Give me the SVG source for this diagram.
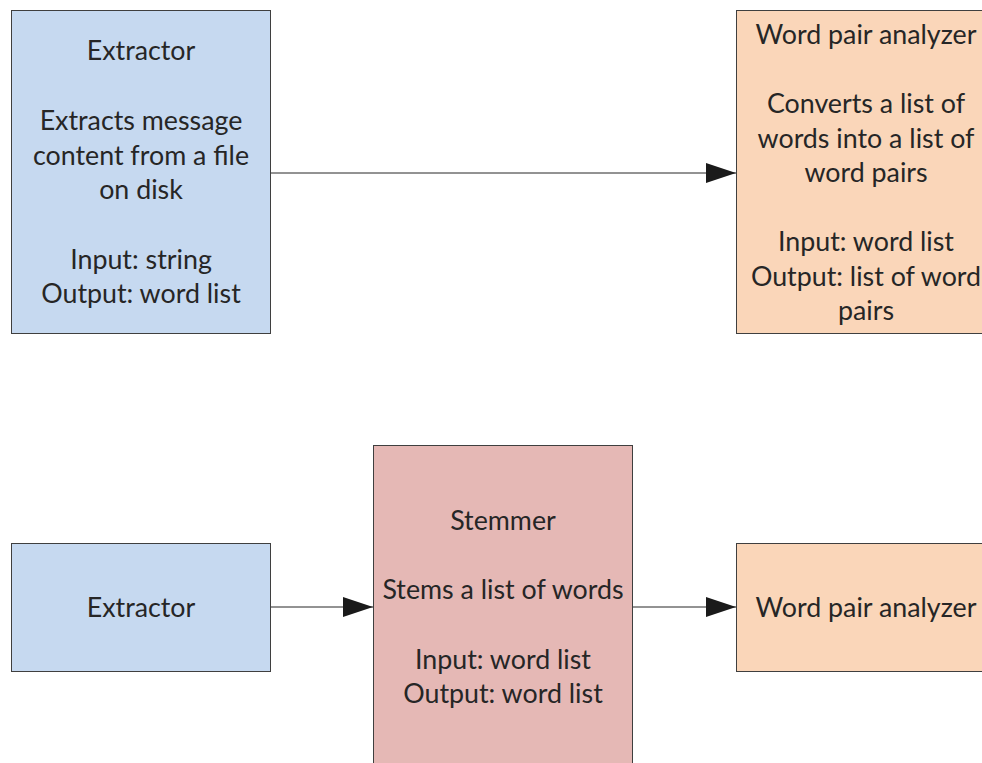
<svg xmlns="http://www.w3.org/2000/svg" width="982" height="763" viewBox="0 0 982 763">
  <style>
    .box { stroke: #3f3f3f; stroke-width: 1; }
    .blue { fill: #c6d9f0; }
    .peach { fill: #fad6b9; }
    .rose { fill: #e5b8b5; }
    text { font-family: "Lato", "Liberation Sans", sans-serif; font-size: 26.8px; fill: #262626; text-anchor: middle; }
    .wire { stroke: #262626; stroke-width: 1; fill: none; marker-end: url(#head); }
  </style>
  <defs>
    <marker id="head" markerUnits="userSpaceOnUse" markerWidth="30" markerHeight="20" refX="30" refY="10" orient="auto">
      <path d="M0,0 L30,10 L0,20 Z" fill="#1a1a1a"/>
    </marker>
  </defs>
  <rect width="982" height="763" fill="#ffffff"/>

  <g id="connectors">
    <line class="wire" x1="271" y1="173" x2="736" y2="173"/>
    <line class="wire" x1="271" y1="607" x2="373" y2="607"/>
    <line class="wire" x1="633" y1="607" x2="736" y2="607"/>
  </g>

  <g id="extractor-detail">
    <rect class="box blue" x="11.5" y="10.5" width="259" height="323"/>
    <text x="141" y="60">Extractor</text>
    <text x="141" y="130">Extracts message</text>
    <text x="141" y="165">content from a file</text>
    <text x="141" y="199">on disk</text>
    <text x="141" y="269">Input: string</text>
    <text x="141" y="303">Output: word list</text>
  </g>

  <g id="analyzer-detail">
    <rect class="box peach" x="736.5" y="10.5" width="259" height="323"/>
    <text x="866" y="44">Word pair analyzer</text>
    <text x="866" y="113">Converts a list of</text>
    <text x="866" y="148">words into a list of</text>
    <text x="866" y="182">word pairs</text>
    <text x="866" y="251">Input: word list</text>
    <text x="866" y="286">Output: list of word</text>
    <text x="866" y="320">pairs</text>
  </g>

  <g id="extractor">
    <rect class="box blue" x="11.5" y="543.5" width="259" height="128"/>
    <text x="141" y="617">Extractor</text>
  </g>

  <g id="stemmer">
    <rect class="box rose" x="373.5" y="445.5" width="259" height="330"/>
    <text x="503" y="530">Stemmer</text>
    <text x="503" y="599">Stems a list of words</text>
    <text x="503" y="669">Input: word list</text>
    <text x="503" y="703">Output: word list</text>
  </g>

  <g id="analyzer">
    <rect class="box peach" x="736.5" y="543.5" width="259" height="128"/>
    <text x="866" y="617">Word pair analyzer</text>
  </g>
</svg>
